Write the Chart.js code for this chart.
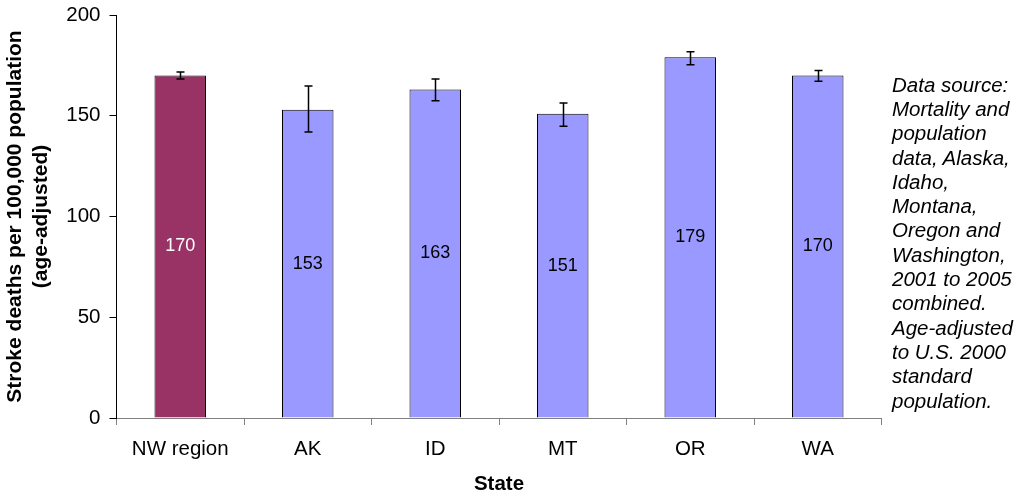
<!DOCTYPE html>
<html><head><meta charset="utf-8">
<script src="https://cdn.jsdelivr.net/npm/chart.js@4"></script>
<style>
html,body{margin:0;padding:0;background:#fff;}
#wrap{position:relative;width:1021px;height:497px;overflow:hidden;}
#note{position:absolute;left:892px;top:72.7px;font:italic 20.5px 'Liberation Sans',Arial,sans-serif;line-height:24.3px;color:#000;white-space:nowrap;}
</style></head><body>
<div id="wrap"><canvas id="c" width="1021" height="497"></canvas><div id="note"></div></div>
<script>
const categories = ['NW region', 'AK', 'ID', 'MT', 'OR', 'WA'];
const rates = [170, 153, 163, 151, 179, 170];
const ciLow = [168.3, 141.9, 157.5, 144.8, 175.3, 167.1];
const ciHigh = [171.7, 164.8, 168.2, 156.3, 181.8, 172.4];
const yTicks = [0, 50, 100, 150, 200];
const noteLines = ['Data source:', 'Mortality and', 'population', 'data, Alaska,', 'Idaho,', 'Montana,', 'Oregon and', 'Washington,', '2001 to 2005', 'combined.', 'Age-adjusted', 'to U.S. 2000', 'standard', 'population.'];

const FONT = "'Liberation Sans', Arial, sans-serif";
document.getElementById('note').innerHTML = noteLines.join('<br>');

const barColors = categories.map((c, i) => i === 0 ? '#993366' : '#9999FF');
const labelColors = categories.map((c, i) => i === 0 ? '#FFFFFF' : '#000000');

const errorBars = {
  id: 'errorBars',
  afterDatasetsDraw(chart) {
    const ctx = chart.ctx, y = chart.scales.y;
    const meta = chart.getDatasetMeta(0);
    ctx.save();
    ctx.strokeStyle = '#000';
    ctx.lineWidth = 1.5;
    meta.data.forEach((bar, i) => {
      const x = Math.round(bar.x) + 0.5;
      const t = y.getPixelForValue(ciHigh[i]);
      const b = y.getPixelForValue(ciLow[i]);
      ctx.beginPath();
      ctx.moveTo(x, t); ctx.lineTo(x, b);
      ctx.moveTo(x - 4, t); ctx.lineTo(x + 4, t);
      ctx.moveTo(x - 4, b); ctx.lineTo(x + 4, b);
      ctx.stroke();
    });
    ctx.restore();
  }
};

const valueLabels = {
  id: 'valueLabels',
  afterDatasetsDraw(chart) {
    const ctx = chart.ctx;
    const meta = chart.getDatasetMeta(0);
    ctx.save();
    ctx.font = '18px ' + FONT;
    ctx.textAlign = 'center';
    ctx.textBaseline = 'middle';
    meta.data.forEach((bar, i) => {
      ctx.fillStyle = labelColors[i];
      ctx.fillText(String(rates[i]), bar.x, (bar.y + bar.base) / 2);
    });
    ctx.restore();
  }
};

new Chart(document.getElementById('c'), {
  type: 'bar',
  data: {
    labels: categories,
    datasets: [{
      data: rates,
      backgroundColor: barColors,
      borderColor: '#000',
      borderWidth: 1,
      barPercentage: 0.404,
      categoryPercentage: 1
    }]
  },
  options: {
    responsive: false,
    devicePixelRatio: 1,
    animation: false,
    layout: { padding: { top: 15, right: 139.5, left: 0, bottom: 0 } },
    plugins: { legend: { display: false }, tooltip: { enabled: false } },
    scales: {
      x: {
        afterFit: s => { s.height = 79; s.paddingTop = 0; s.paddingBottom = 0; },
        grid: { offset: true, drawOnChartArea: false, tickLength: 7, color: '#808080' },
        border: { color: '#808080', width: 1 },
        ticks: { color: '#000', font: { family: FONT, size: 20.5 }, padding: 12, maxRotation: 0 },
        title: { display: true, text: 'State', color: '#000', font: { family: FONT, size: 20.5, weight: 'bold' }, padding: { top: 0, bottom: 0 } }
      },
      y: {
        min: 0, max: 200,
        afterFit: s => { s.width = 116.5; s.paddingTop = 0; s.paddingBottom = 0; },
        afterBuildTicks: s => { s.ticks = yTicks.map(v => ({ value: v })); },
        grid: { drawOnChartArea: false, tickLength: 7, color: '#000' },
        border: { color: '#000', width: 1 },
        ticks: { color: '#000', font: { family: FONT, size: 20.5 }, padding: 9 },
        title: { display: true, text: ['Stroke deaths per 100,000 population', '(age-adjusted)'], color: '#000', font: { family: FONT, size: 21, weight: 'bold' }, padding: { top: 3, bottom: 0 } }
      }
    }
  },
  plugins: [errorBars, valueLabels]
});
</script>
</body></html>
